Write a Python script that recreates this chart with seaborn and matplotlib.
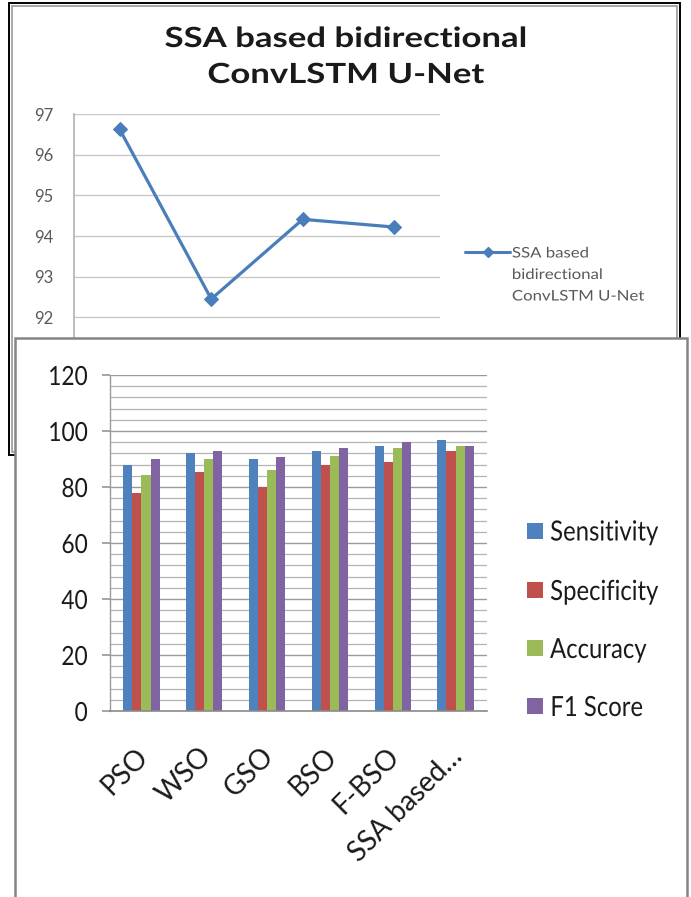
import matplotlib
matplotlib.use("Agg")
import numpy as np
import matplotlib.pyplot as plt
from matplotlib import font_manager
from matplotlib.patches import Rectangle
from matplotlib.lines import Line2D
from matplotlib.patheffects import AbstractPathEffect
from matplotlib.transforms import Affine2D, ScaledTranslation
from matplotlib.ticker import MultipleLocator
import seaborn as sns
import pandas as pd

# ---- data -------------------------------------------------------------
metrics = ["Sensitivity", "Specificity", "Accuracy", "F1 Score"]
methods = ["PSO", "WSO", "GSO", "BSO", "F-BSO", "SSA based bidirectional ConvLSTM U-Net"]
method_ticks = ["PSO", "WSO", "GSO", "BSO", "F-BSO", "SSA based\u2026"]

sensitivity = [87.8, 92.3, 90.1, 92.9, 94.6, 96.8]
specificity = [78.0, 85.5, 80.0, 87.9, 88.9, 92.7]
accuracy = [84.4, 90.1, 86.2, 91.2, 94.1, 94.5]
f1_score = [90.1, 92.9, 90.6, 94.1, 95.9, 94.5]

line_title = ["SSA based bidirectional", "ConvLSTM U-Net"]
line_legend = ["SSA based", "bidirectional", "ConvLSTM U-Net"]
line_values = [96.62, 92.45, 94.41, 94.22]

colors = ["#4f81bd", "#c0504d", "#9bbb59", "#8064a2"]
line_color = "#4a7ebb"


# ---- fonts ------------------------------------------------------------
def pick_font(*names):
    for n in names:
        try:
            font_manager.findfont(n, fallback_to_default=False)
            return n
        except Exception:
            continue
    return "DejaVu Sans"


base_font = pick_font("Lato", "Open Sans", "Noto Sans")
sns.set_theme(style="white")
plt.rcParams["font.family"] = [base_font, "DejaVu Sans"]


class Stretch(AbstractPathEffect):
    """Scale glyph outlines along the text direction."""

    def __init__(self, sx, anchor="center"):
        super().__init__()
        self.sx = sx
        self.anchor = anchor

    def draw_path(self, renderer, gc, tpath, affine, rgbFace=None):
        ext = tpath.get_extents()
        if not np.all(np.isfinite([ext.x0, ext.x1])):
            renderer.draw_path(gc, tpath, affine, rgbFace)
            return
        ox = {"left": ext.x0, "center": 0.5 * (ext.x0 + ext.x1),
              "right": ext.x1}[self.anchor]
        a = Affine2D().translate(-ox, 0).scale(self.sx, 1).translate(ox, 0) + affine
        renderer.draw_path(gc, tpath, a, rgbFace)


W, H = 691, 897
fig = plt.figure(figsize=(W / 100, H / 100), dpi=100)
fig.patch.set_facecolor("white")


def fx(x):
    return x / W


def fy(y):
    return 1 - y / H


def frame(x0, y0, x1, y1, **kw):
    r = Rectangle((fx(x0), fy(y1)), fx(x1) - fx(x0), fy(y0) - fy(y1),
                  transform=fig.transFigure, **kw)
    fig.add_artist(r)
    return r


def ftext(x, y, s, sx=1.0, anchor="center", **kw):
    t = fig.text(fx(x), fy(y), s, **kw)
    t.set_path_effects([Stretch(sx, anchor)])
    return t


# ---- upper panel: line chart -----------------------------------------
frame(9, 3, 680, 455, facecolor="white", edgecolor="black", lw=1.4, zorder=0.5)
frame(12, 6, 677, 452, facecolor="none", edgecolor="#9a9a9a", lw=1.2, zorder=0.6)

ax1 = fig.add_axes([fx(74), fy(358), fx(440) - fx(74), fy(114) - fy(358)])
ax1.set_zorder(1)
ax1.patch.set_alpha(0)
line_df = pd.DataFrame({"metric": metrics, "value": line_values})
sns.lineplot(data=line_df, x="metric", y="value", ax=ax1, color=line_color,
             lw=2.3, marker="D", markersize=7, markeredgecolor=line_color,
             sort=False)
ax1.set_xlim(-0.5, 3.5)
ax1.set_ylim(91, 97)
ax1.set_yticks([92, 93, 94, 95, 96, 97])
ax1.yaxis.grid(True, color="#c8c8c8", lw=1.0)
ax1.set_xlabel("")
ax1.set_ylabel("")
ax1.set_xticks([])
for s in ["top", "right", "bottom"]:
    ax1.spines[s].set_visible(False)
ax1.spines["left"].set_color("#b5b5b5")
ax1.tick_params(axis="y", labelsize=12, labelcolor="#595959", length=0, pad=15)

for line, base in zip(line_title, [47, 83]):
    ftext(346, base, line, sx=1.25, ha="center", va="baseline", fontsize=20,
          fontweight="bold", color="#1a1a1a", zorder=1.2)

# legend of the line chart
fig.add_artist(Line2D([fx(465), fx(510)], [fy(252), fy(252)],
                      transform=fig.transFigure, color=line_color, lw=2.2,
                      zorder=1.2))
fig.add_artist(Line2D([fx(488)], [fy(252)], transform=fig.transFigure,
                      color=line_color, marker="D", markersize=5, zorder=1.3))
for line, base in zip(line_legend, [257.5, 279, 300.5]):
    ftext(512, base, line, sx=1.15, anchor="left", ha="left", va="baseline",
          fontsize=10.5, color="#595959", zorder=1.2)

# ---- lower panel: grouped bars ---------------------------------------
frame(15, 338, 687, 905, facecolor="white", edgecolor="#858585", lw=1.8,
      zorder=3)

ax2 = fig.add_axes([fx(110), fy(711), (487 - 110) / W, (711 - 375) / H])
ax2.set_zorder(4)
ax2.patch.set_alpha(0)

bar_df = pd.DataFrame({
    "method": methods * 4,
    "metric": [m for m in metrics for _ in methods],
    "value": sensitivity + specificity + accuracy + f1_score,
})
sns.barplot(data=bar_df, x="method", y="value", hue="metric", order=methods,
            hue_order=metrics, palette=colors, saturation=1, width=0.58,
            gap=0, ax=ax2, legend=False, linewidth=0, errorbar=None)
ax2.set_xlim(-0.5, len(methods) - 0.5)
ax2.set_ylim(0, 120)
ax2.set_yticks([0, 20, 40, 60, 80, 100, 120])
ax2.yaxis.set_minor_locator(MultipleLocator(4))
ax2.set_axisbelow(True)
ax2.yaxis.grid(True, which="major", color="#9a9a9a", lw=1.0)
ax2.yaxis.grid(True, which="minor", color="#b4b4b4", lw=0.9)
ax2.set_xlabel("")
ax2.set_ylabel("")
for s in ["top", "right"]:
    ax2.spines[s].set_visible(False)
ax2.spines["left"].set_color("#9a9a9a")
ax2.spines["bottom"].set_color("#8a8a8a")
ax2.spines["left"].set_linewidth(1.0)
ax2.spines["bottom"].set_linewidth(1.2)
ax2.tick_params(axis="y", which="major", left=True, length=6, color="#9a9a9a",
                labelsize=19, pad=10, labelcolor="#1a1a1a")
ax2.tick_params(axis="y", which="minor", left=False)
ax2.set_xticks(range(len(methods)))
ax2.set_xticklabels(method_ticks, rotation=45, ha="right",
                    rotation_mode="default")
ax2.tick_params(axis="x", bottom=False, labelsize=20, pad=17,
                labelcolor="#1a1a1a")
for t in ax2.get_yticklabels():
    t.set_path_effects([Stretch(0.86, "right")])
shift = ScaledTranslation(12 / 100, 0, fig.dpi_scale_trans)
for t in ax2.get_xticklabels():
    t.set_transform(t.get_transform() + shift)

# legend of the bar chart
for c, m, yc in zip(colors, metrics, [530.5, 590, 648, 706]):
    frame(527, yc - 8, 543, yc + 8, facecolor=c, edgecolor="none", zorder=5)
    ftext(550, yc + 10, m, sx=0.86, anchor="left", ha="left", va="baseline",
          fontsize=20, color="#1a1a1a", zorder=5)

fig.savefig("out.png", dpi=100, facecolor="white")
